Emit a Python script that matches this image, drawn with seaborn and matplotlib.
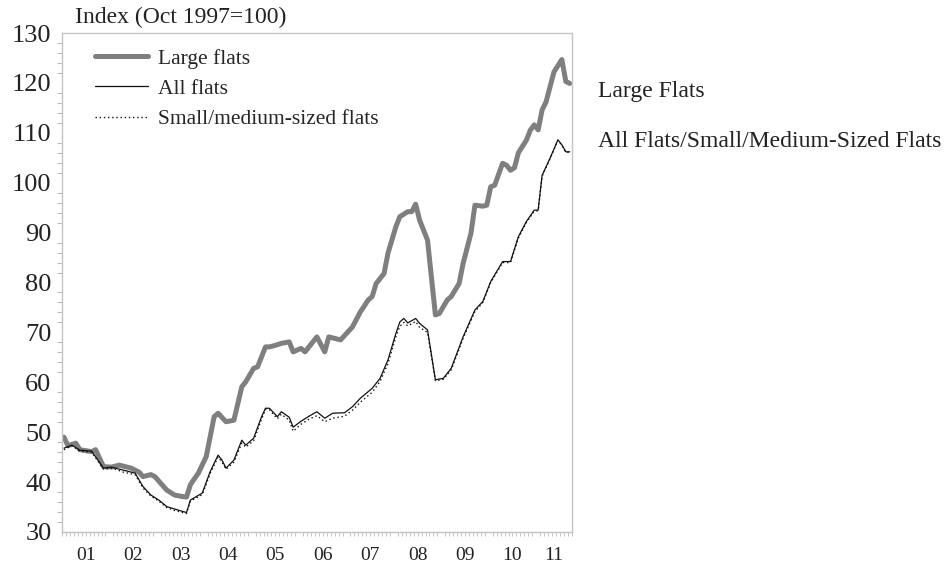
import numpy as np
import pandas as pd
import matplotlib
matplotlib.use("Agg")
import matplotlib.pyplot as plt
import matplotlib.transforms as mtransforms
import seaborn as sns

# months counted from Jan 2001 (0) to Sep 2011 (128)
large_months = [0, 1, 3, 4, 7, 8, 10, 12, 14, 17, 19, 20, 22, 23, 24, 26, 28, 30, 31, 32,
                34, 36, 38, 39, 41, 43, 45, 46, 48, 49, 51, 52, 53, 55, 57, 58, 60, 61, 64, 66,
                67, 70, 73, 75, 77, 78, 79, 81, 82, 84, 85, 87, 88, 89, 90, 92, 94, 95, 97, 98,
                100, 101, 103, 104, 106, 107, 108, 109, 111, 112, 113, 114, 115, 117, 118, 119,
                120, 121, 122, 123, 124, 126, 127, 128]
large_flats = [49.0, 47.3, 47.8, 46.5, 46.1, 46.5, 43.1, 43.0, 43.4, 42.8, 42.0, 41.1, 41.5, 41.1,
               40.2, 38.4, 37.4, 37.1, 37.0, 39.5, 41.8, 45.1, 53.1, 53.8, 52.1, 52.4, 59.1, 60.1,
               62.8, 63.1, 67.1, 67.1, 67.3, 67.8, 68.1, 66.1, 66.8, 66.1, 69.1, 66.1, 69.1, 68.5,
               71.1, 74.1, 76.5, 77.2, 79.8, 81.8, 85.9, 91.2, 93.2, 94.2, 94.2, 95.7, 92.5, 88.5,
               73.5, 73.8, 76.5, 77.2, 79.8, 83.8, 89.9, 95.5, 95.3, 95.5, 99.2, 99.5, 103.9, 103.5,
               102.5, 103.0, 106.0, 108.5, 110.5, 111.6, 110.6, 114.6, 116.2, 119.2, 122.2, 124.7,
               120.3, 119.9]

all_months = [0, 2, 4, 7, 10, 12, 14, 15, 18, 20, 22, 24, 26, 28, 31, 32, 35, 37, 39, 40,
              41, 43, 45, 46, 48, 50, 51, 52, 54, 55, 57, 58, 60, 62, 64, 66, 68, 71, 73, 75,
              78, 80, 82, 84, 85, 86, 87, 89, 90, 92, 94, 96, 98, 101, 104, 106, 108, 111, 113, 115,
              117, 119, 120, 121, 123, 125, 126, 127, 128]
all_flats = [46.8, 47.4, 46.4, 46.2, 42.8, 43.0, 42.6, 42.4, 41.8, 39.1, 37.4, 36.4, 35.1, 34.6,
             33.9, 36.4, 37.8, 42.1, 45.4, 44.4, 42.8, 44.4, 48.4, 47.4, 48.8, 53.1, 54.8, 54.8,
             53.1, 54.1, 53.0, 51.0, 52.2, 53.2, 54.1, 52.8, 53.8, 53.9, 55.1, 56.8, 58.8, 60.8,
             64.5, 69.8, 72.1, 72.8, 71.9, 72.8, 71.8, 70.5, 60.5, 60.8, 62.8, 69.1, 74.5, 76.2,
             80.2, 84.2, 84.2, 89.2, 92.2, 94.5, 94.5, 101.5, 104.9, 108.6, 107.6, 106.2, 106.2]
small_flats = [46.5, 47.3, 46.2, 46.0, 42.6, 42.8, 42.3, 42.0, 41.5, 38.8, 37.2, 36.2, 34.9, 34.3,
               33.7, 36.2, 37.5, 41.8, 45.0, 44.0, 42.6, 44.0, 47.8, 47.0, 48.3, 52.6, 54.6, 54.5,
               52.7, 53.6, 52.4, 50.2, 51.6, 52.6, 53.3, 52.1, 52.8, 53.2, 54.4, 56.0, 58.0, 60.2,
               63.8, 69.2, 71.2, 72.0, 71.3, 72.2, 71.0, 70.0, 60.3, 60.6, 62.5, 68.8, 74.2, 76.0,
               80.0, 84.0, 84.0, 88.9, 92.0, 94.3, 94.4, 101.3, 104.8, 108.5, 107.5, 106.1, 106.1]

year_labels = ['01', '02', '03', '04', '05', '06', '07', '08', '09', '10', '11']

sns.set_style("white")
plt.rcParams['font.family'] = ['Liberation Serif', 'DejaVu Serif']

fig = plt.figure(figsize=(9.51, 5.70), dpi=100)
ax = fig.add_axes([0.0652, 0.0667, 0.536, 0.8753])

sns.lineplot(x=large_months, y=large_flats, ax=ax, color='#7f7f7f', lw=3.6, label='Large flats')
sns.lineplot(x=all_months, y=all_flats, ax=ax, color='#111111', lw=0.9, label='All flats')
sns.lineplot(x=all_months, y=small_flats, ax=ax, color='#111111', lw=1.0,
             linestyle=(0, (1, 2)), label='Small/medium-sized flats')

ax.set_xlim(-0.5, 128.5)
ax.set_ylim(30, 130)
ax.set_yticks(np.arange(30, 131, 10))
ax.set_yticks(np.arange(30, 131, 2), minor=True)
ax.set_xticks(np.arange(11.5, 128, 12))
ax.set_xticklabels([])
ax.set_xticks(np.arange(-0.5, 128.6, 1), minor=True)
ax.tick_params(axis='y', which='major', length=6.5, width=1, color='#aaaaaa',
               labelsize=19, labelcolor='#222222', pad=1)
ax.tick_params(axis='y', which='minor', length=3.6, width=0.8, color='#bbbbbb', left=True)
ax.tick_params(axis='x', which='major', direction='inout', length=9, width=0.8, color='#aaaaaa')
ax.tick_params(axis='x', which='minor', direction='out', length=3, width=0.6, color='#bbbbbb', bottom=True)
for s in ax.spines.values():
    s.set_color('#c4c4c4')
    s.set_linewidth(1.0)

trans = mtransforms.blended_transform_factory(ax.transData, ax.transAxes)
centers = [12 * i + 5.5 for i in range(10)] + [124]
for c, lab in zip(centers, year_labels):
    ax.text(c, -0.03, lab, transform=trans, ha='center', va='top', fontsize=14, color='#222222')

ax.set_xlabel('')
ax.set_ylabel('')
ax.legend(loc='upper left', frameon=False, fontsize=15.5, handlelength=2.45, handletextpad=0.47,
          labelspacing=0.48, bbox_to_anchor=(0.04, 0.995), borderaxespad=0.2)

fig.text(0.079, 0.959, 'Index (Oct 1997=100)', fontsize=17, ha='left', va='baseline', color='#222222')

rtrans = mtransforms.blended_transform_factory(ax.transAxes, ax.transData)
ax.text(1.051, 117.2, 'Large Flats', transform=rtrans, fontsize=17, va='baseline', ha='left',
        color='#222222', clip_on=False)
ax.text(1.051, 107.2, 'All Flats/Small/Medium-Sized Flats', transform=rtrans, fontsize=17,
        va='baseline', ha='left', color='#222222', clip_on=False)

fig.savefig('out.png', dpi=100)
